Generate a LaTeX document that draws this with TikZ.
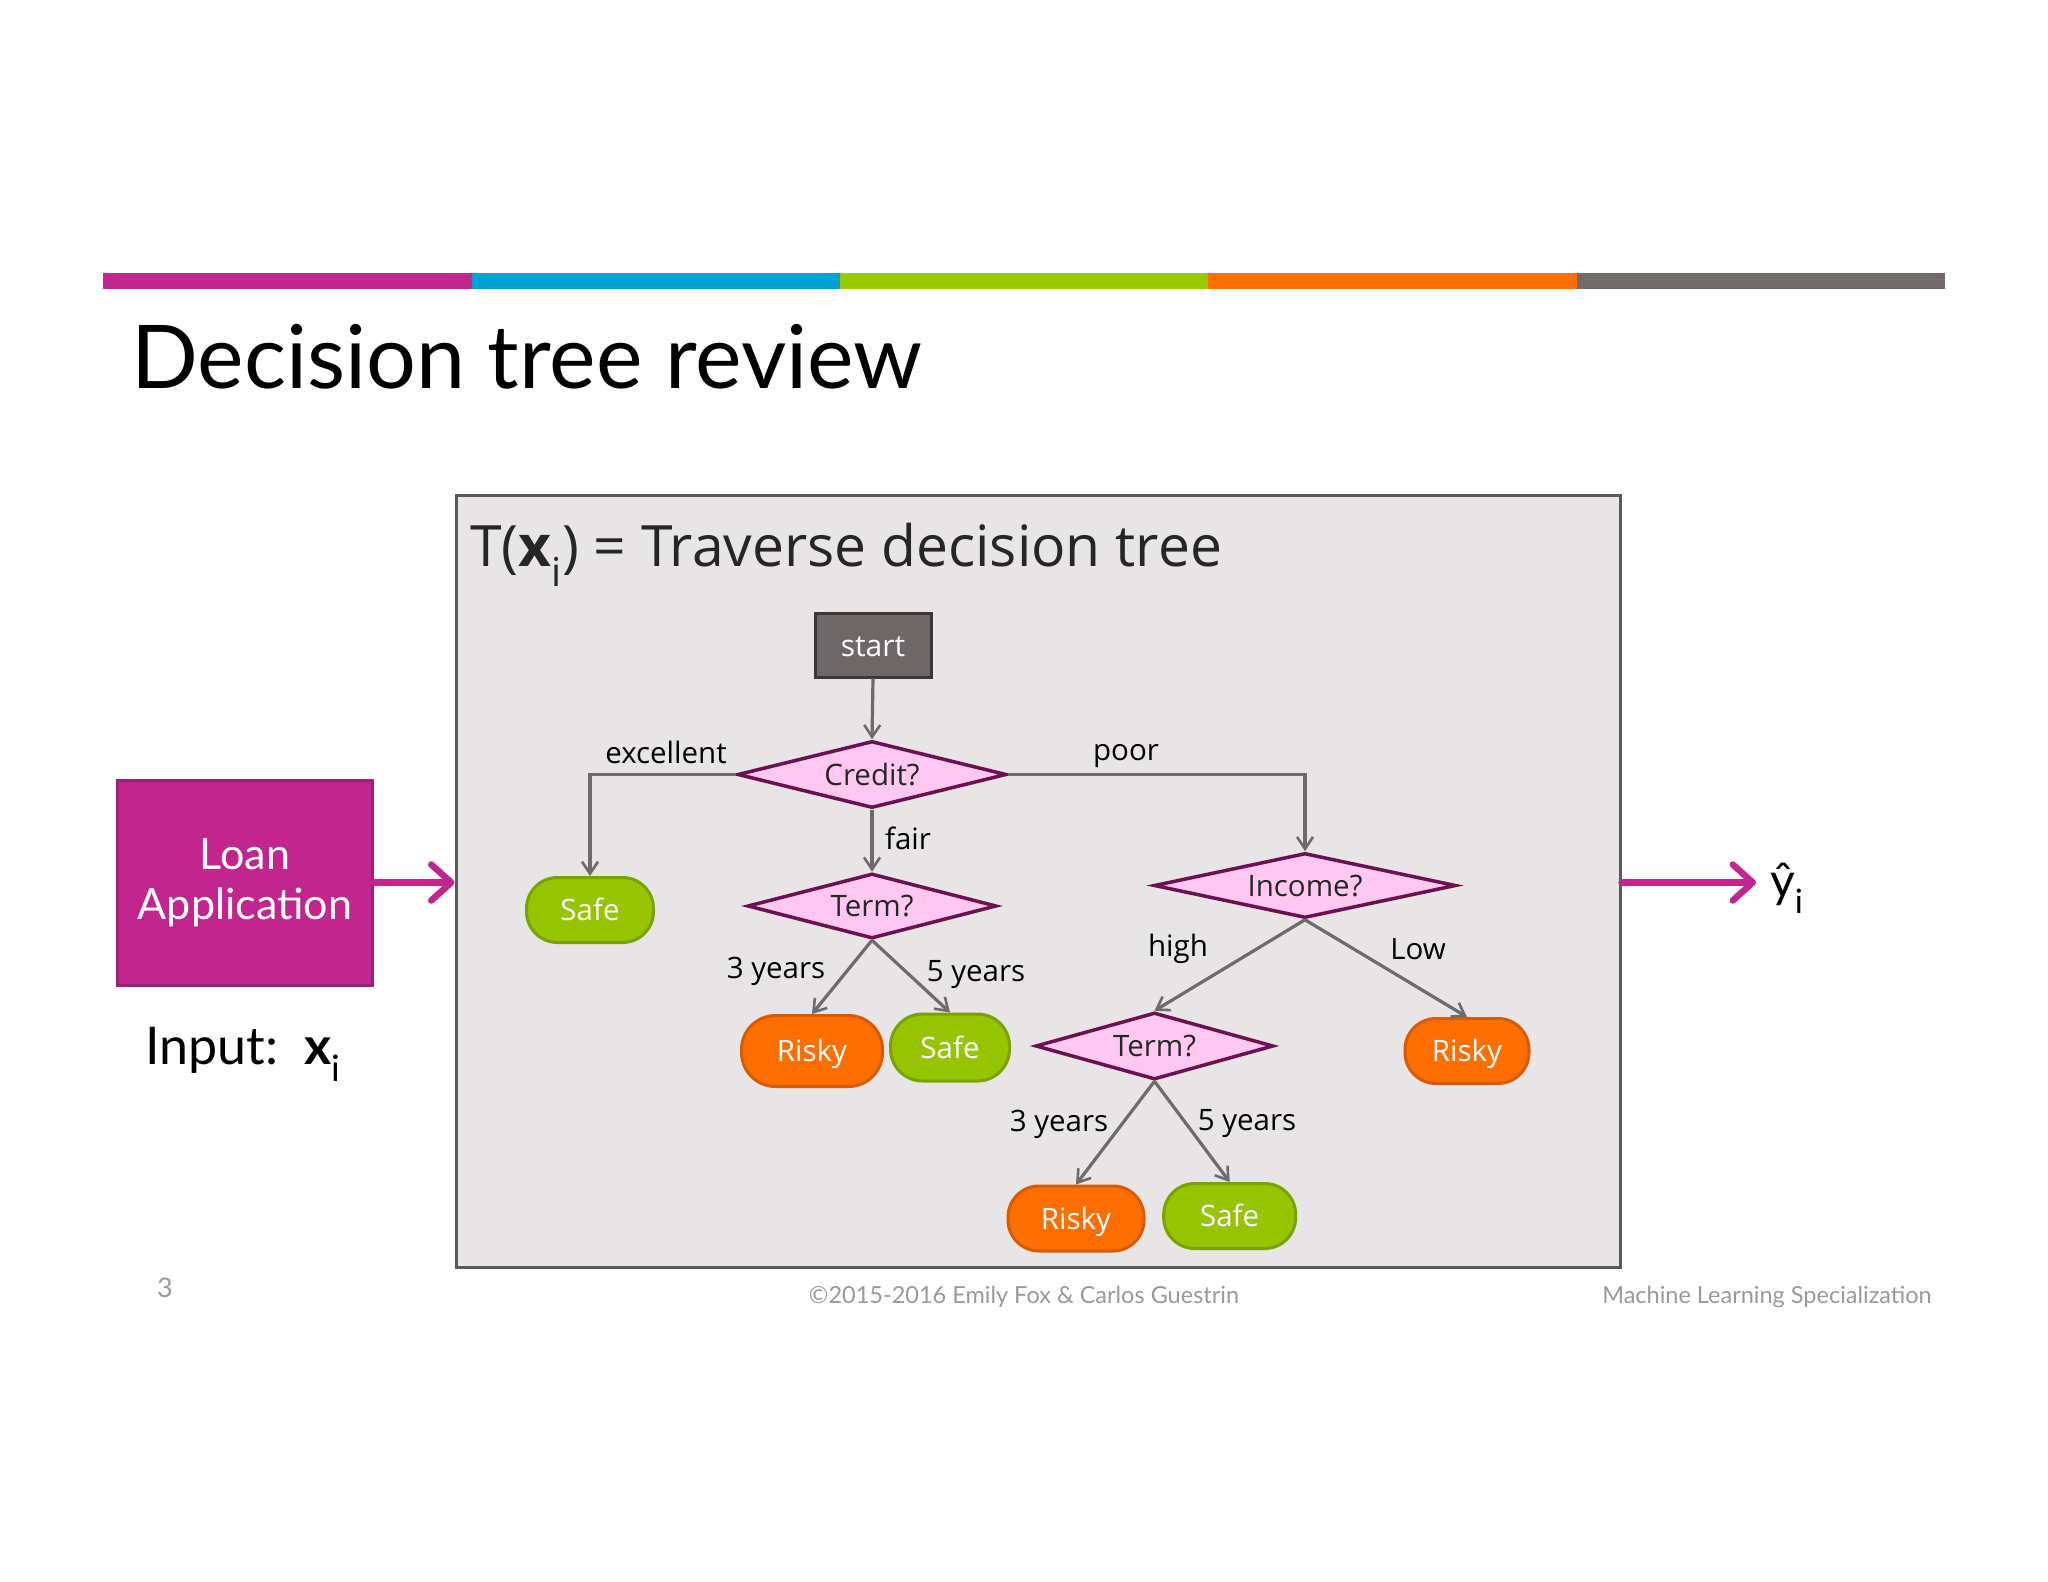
\documentclass[tikz,border=0pt]{standalone}
\usepackage{fontspec}
\setmainfont{Open Sans}
\newfontfamily\gfont{Lato}
\usetikzlibrary{shapes.geometric,arrows.meta}
\definecolor{cmag}{HTML}{C0268E}
\definecolor{cmagdark}{HTML}{9E1F78}
\definecolor{cblue}{HTML}{00A0D2}
\definecolor{clime}{HTML}{97C800}
\definecolor{corange}{HTML}{FF6E00}
\definecolor{cgray}{HTML}{716B6C}
\definecolor{boxfill}{HTML}{E7E5E6}
\definecolor{boxborder}{HTML}{5A5859}
\definecolor{startfill}{HTML}{6D6768}
\definecolor{startborder}{HTML}{3A3838}
\definecolor{dfill}{HTML}{FFC8F0}
\definecolor{dborder}{HTML}{6B1050}
\definecolor{orborder}{HTML}{D95A00}
\definecolor{grfill}{HTML}{96C400}
\definecolor{grborder}{HTML}{7AA300}
\definecolor{edgegray}{HTML}{6E6B6C}
\definecolor{footgray}{HTML}{9A9A9A}
\begin{document}
\begin{tikzpicture}[x=1pt,y=-1pt,
  treefont/.style={font=\fontsize{29.5}{33}\selectfont},
  dec/.style={diamond, draw=dborder, fill=dfill, line width=3.5pt, inner sep=0pt, treefont, text=black!85, text height=21pt, text depth=0pt},
  pill/.style={rounded corners=31pt, line width=3pt, inner sep=0pt, text=white, font=\fontsize{29.5}{33}\selectfont, text height=21pt, text depth=0pt},
  risky/.style={pill, draw=orborder, fill=corange},
  safe/.style={pill, draw=grborder, fill=grfill},
  tedge/.style={draw=edgegray, line width=3.2pt, -{Straight Barb[length=12pt,width=16pt,line width=2.6pt]}},
  elabel/.style={treefont, text=black, inner sep=0pt},
  magarrow/.style={draw=cmag, line width=6.5pt, line cap=round, -{Straight Barb[length=20pt,width=36pt,line width=6.5pt, line cap=round, line join=round]}},
  foot/.style={font=\gfont\fontsize{23.5}{26}\selectfont, text=footgray, inner sep=0pt}
]
\useasboundingbox (0,0) rectangle (2048,1582);
\fill[white] (0,0) rectangle (2048,1582);
% colour bar
\fill[cmag] (103,273) rectangle (471.5,289);
\fill[cblue] (471.5,273) rectangle (840,289);
\fill[clime] (840,273) rectangle (1208,289);
\fill[corange] (1208,273) rectangle (1576.5,289);
\fill[cgray] (1576.5,273) rectangle (1945,289);
% title
\node[anchor=base west, inner sep=0pt, font=\gfont\fontsize{88}{96}\selectfont] (title) at (131,388) {Decision tree review};
% gray box
\node[draw=boxborder, fill=boxfill, line width=3pt, minimum width=1164pt, minimum height=772pt, inner sep=0pt] (tbox) at (1038,881) {};
\node[anchor=base west, inner sep=0pt, font=\fontsize{57}{64}\selectfont, text=black!85] (hdr) at (470,566) {T(\textbf{x}\textsubscript{i}) = Traverse decision tree};
% tree nodes
\node[draw=startborder, fill=startfill, line width=3pt, minimum width=116pt, minimum height=64pt, inner sep=0pt, text=white, font=\fontsize{30}{34}\selectfont, text height=22pt, text depth=0pt] (start) at (873,645) {start};
\node[dec, aspect=4, minimum width=269pt, minimum height=67pt] (credit) at (872,774.5) {Credit?};
\node[dec, aspect=3.8, minimum width=249pt, minimum height=65pt] (term1) at (872,906) {Term?};
\node[dec, aspect=4.6, minimum width=302pt, minimum height=65pt] (income) at (1305,885.5) {Income?};
\node[dec, aspect=3.55, minimum width=238pt, minimum height=67pt] (term2) at (1154.5,1046) {Term?};
\node[safe, minimum width=127pt, minimum height=65pt] (safe1) at (590,910) {Safe};
\node[risky, minimum width=141pt, minimum height=71pt, rounded corners=34pt] (risky1) at (812,1051) {Risky};
\node[safe, minimum width=119pt, minimum height=67pt, rounded corners=32pt] (safe2) at (950,1047.5) {Safe};
\node[risky, minimum width=124pt, minimum height=65pt] (risky3) at (1467,1051) {Risky};
\node[risky, minimum width=136pt, minimum height=65pt] (risky2) at (1076,1218.5) {Risky};
\node[safe, minimum width=132pt, minimum height=65pt] (safe3) at (1229.7,1216) {Safe};
% tree edges
\draw[tedge] (start.south) -- (credit.north);
\draw[tedge] (credit.west) -| (safe1.north);
\draw[tedge] (credit.east) -| (income.north);
\draw[tedge] (credit.south) -- (term1.north);
\draw[tedge] (term1.south) -- (risky1.north);
\draw[tedge] (term1.south) -- (safe2.north);
\draw[tedge] (income.south) -- (term2.north);
\draw[tedge] (income.south) -- (risky3.north);
\draw[tedge] (term2.south) -- (risky2.north);
\draw[tedge] (term2.south) -- (safe3.north);
% edge labels
\node[elabel] (lexc) at (666,752) {excellent};
\node[elabel] (lpoor) at (1126,756) {poor};
\node[elabel] (lfair) at (908,838) {fair};
\node[elabel] (l3a) at (776,971) {3 years};
\node[elabel] (l5a) at (976,975) {5 years};
\node[elabel] (lhigh) at (1178,949) {high};
\node[elabel] (llow) at (1418,949) {Low};
\node[elabel] (l3b) at (1059,1124) {3 years};
\node[elabel] (l5b) at (1247,1124) {5 years};
% loan application
\node[draw=cmagdark, fill=cmag, line width=3pt, minimum width=255pt, minimum height=205pt, inner sep=0pt, align=center, text=white, font=\gfont\fontsize{43}{50}\selectfont] (loan) at (245,882.5) {Loan\\Application};
\node[anchor=base west, inner sep=0pt, font=\gfont\fontsize{52}{56}\selectfont] (input) at (145,1064) {Input:\ \ \textbf{x}\textsubscript{i}};
\draw[magarrow] (loan.east) -- (loan.east -| tbox.west);
\node[anchor=west, inner sep=0pt, font=\gfont\fontsize{48}{52}\selectfont] (yhat) at (1770,888) {ŷ\textsubscript{i}};
\draw[magarrow] (tbox.east |- loan.east) -- (1756,882.5) coordinate (yend);
% footer
\node[foot, font=\gfont\fontsize{27}{30}\selectfont] (pg) at (165,1288) {3};
\node[foot] (copy) at (1024,1297) {©2015-2016 Emily Fox \& Carlos Guestrin};
\node[foot] (mls) at (1767,1297) {Machine Learning Specialization};
\end{tikzpicture}
\end{document}
